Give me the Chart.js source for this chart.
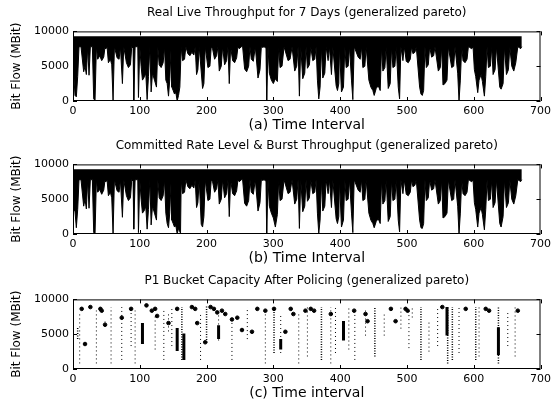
<!DOCTYPE html>
<html>
<head>
<meta charset="utf-8">
<script src="https://cdn.jsdelivr.net/npm/chart.js@4.4.1/dist/chart.umd.min.js"></script>
<style>
  html, body { margin: 0; padding: 0; background: #fff; }
  #wrap { position: relative; width: 555px; height: 408px; }
  .box { position: absolute; left: 0; width: 555px; height: 134px; }
</style>
</head>
<body>
<div id="wrap">
  <div class="box" style="top:0px"><canvas id="liveChart"></canvas></div>
  <div class="box" style="top:133px"><canvas id="rateChart"></canvas></div>
  <div class="box" style="top:268px"><canvas id="bucketChart"></canvas></div>
</div>
<script>
// tick labels shared by the three panels
const timeTicks = [0, 100, 200, 300, 400, 500, 600, 700];
const flowTicks = [0, 5000, 10000];

// (a) real live throughput, [time interval, MBit]
const liveThroughput = [
  [0,7800],[1,4000],[3,800],[5,600],[7,3500],[9,7800],
  [12,7800],[16,4200],[18,5000],[20,3800],[22,7800],[24,3700],[26,7800],
  [29,7800],[31,300],[33,100],[35,7800],
  [37,6000],[40,6500],[43,5800],[46,6300],[48,7800],[49,7500],[51,7800],
  [53,5500],[56,6000],[58,5200],[60,100],[62,7800],
  [66,6200],[69,6000],[71,7800],[74,2500],[76,7800],
  [80,5500],[83,4800],[86,5200],[88,7800],
  [90,7600],[91,0],[93,7800],[97,7800],[98,500],[100,7800],
  [102,5000],[104,3000],[107,3500],[109,4000],[111,200],[113,3500],[115,7800],
  [117,1300],[119,4000],[122,3000],[125,2000],[127,7800],
  [129,5200],[132,4800],[135,5500],[137,7800],
  [139,3000],[141,2500],[143,700],[145,3200],[147,7800],
  [148,2000],[150,1500],[152,1000],[154,1200],[156,0],[158,800],[160,2000],[162,7800],
  [164,5800],[167,6000],[169,7800],
  [172,6800],[175,6500],[178,7000],[181,6600],[183,7800],
  [185,3800],[187,4500],[189,7800],
  [194,1800],[196,2500],[198,7800],
  [202,4800],[205,5000],[207,7800],
  [209,7500],[212,6000],[215,6500],[217,7800],
  [219,4300],[222,5000],[224,7800],
  [227,5200],[230,5800],[232,7800],
  [234,2500],[236,7800],
  [239,5800],[242,5500],[245,6200],[247,7800],
  [249,7500],[252,7800],[254,7800],
  [257,4600],[260,4200],[263,5000],[265,7800],
  [267,6000],[270,5700],[273,7800],
  [277,3300],[280,4500],[282,7800],
  [284,7700],[286,7800],
  [289,7600],[290,0],[292,7800],
  [294,4000],[297,3000],[300,2500],[303,3200],[306,2800],[308,7800],
  [310,4800],[313,5000],[316,7800],
  [322,5800],[325,6000],[328,7800],
  [332,4300],[335,5000],[337,7800],
  [339,700],[341,7800],
  [344,3200],[347,4000],[349,7800],
  [351,4700],[354,5200],[356,7800],
  [359,5800],[362,6000],[364,7800],
  [366,3000],[368,300],[370,2000],[372,7800],
  [374,3300],[377,4000],[379,7800],
  [382,5800],[384,7800],
  [387,3800],[389,7800],
  [394,2200],[396,1500],[398,2500],[399,7800],
  [402,1300],[405,2000],[407,7800],
  [409,4800],[412,5000],[414,7800],
  [417,3000],[419,200],[421,7800],
  [427,6300],[430,6000],[432,7800],
  [434,4800],[437,5000],[439,7800],
  [443,3000],[446,2000],[449,1500],[451,800],[454,1800],[457,2200],[460,1500],[462,7800],
  [464,4300],[467,4800],[469,7800],
  [472,1800],[475,2500],[477,7800],
  [479,4800],[482,5000],[484,7800],
  [487,2000],[489,300],[491,7800],
  [494,5800],[496,7800],
  [499,5700],[502,5500],[505,6000],[507,7800],
  [509,6800],[512,7000],[514,7800],
  [519,2000],[521,1000],[523,800],[525,1500],[527,7800],
  [529,4800],[532,5200],[534,7800],
  [537,6300],[540,6500],[542,7800],
  [547,4300],[550,4800],[552,7800],
  [554,2300],[557,2500],[560,3000],[562,7800],
  [567,4800],[570,5000],[572,7800],
  [576,4000],[578,0],[580,3000],[582,7800],
  [584,5800],[587,5500],[590,6000],[592,7800],
  [594,7700],[597,7500],[599,7800],
  [601,4500],[603,3500],[606,1200],[608,3000],[611,3800],[613,2800],[616,700],[618,3500],[620,7800],
  [622,4800],[625,5000],[627,7800],
  [629,3800],[632,4500],[634,7800],
  [639,2000],[641,1700],[644,2500],[646,7800],
  [649,3800],[652,4500],[654,7800],
  [657,5000],[660,4300],[663,5500],[666,7800],
  [668,7700],[670,7500],[672,7800]
];

// (b) committed rate level & burst throughput
const committedRate = [
  [0,7800],[1,3600],[3,3200],[5,900],[7,3500],[9,7800],
  [12,7800],[16,4000],[18,5000],[20,3600],[22,7800],[24,3700],[26,7800],
  [29,7800],[31,200],[33,0],[35,7800],
  [37,6000],[40,6400],[43,5700],[46,6300],[48,7800],[49,7500],[51,7800],
  [53,5500],[56,6000],[58,5200],[60,0],[62,7800],
  [66,6200],[69,6000],[71,7800],[74,2400],[76,7800],
  [80,5500],[83,4800],[86,5200],[88,7800],
  [90,7600],[91,700],[93,7800],[97,7800],[98,200],[100,7800],
  [102,5000],[104,3000],[107,3400],[109,4000],[111,700],[113,3500],[115,7800],
  [117,1300],[119,4000],[122,3000],[125,2000],[127,7800],
  [129,5200],[132,4800],[135,5500],[137,7800],
  [139,3000],[141,1500],[143,900],[145,3200],[147,7800],
  [148,2000],[150,1500],[152,1000],[154,1200],[156,0],[158,800],[161,100],[162,7800],
  [164,5800],[167,6000],[169,7800],
  [172,6800],[175,6500],[178,7000],[181,6600],[183,7800],
  [185,3800],[187,4500],[189,7800],
  [192,1400],[194,1000],[196,2500],[198,7800],
  [202,4800],[205,5000],[207,7800],
  [209,7500],[212,6000],[215,6500],[217,7800],
  [219,4300],[222,5000],[224,7800],
  [227,5200],[230,5800],[232,7800],
  [234,2500],[236,7800],
  [239,5800],[242,5500],[245,6200],[247,7800],
  [249,7500],[252,7800],[254,7800],
  [257,4400],[260,4000],[263,4800],[265,7800],
  [267,6000],[270,5700],[273,7800],
  [277,3300],[280,4500],[282,7800],
  [284,7700],[286,7800],
  [289,7600],[290,0],[292,7800],
  [294,4000],[297,3000],[300,2300],[303,1000],[306,2800],[308,7800],
  [310,4800],[313,5000],[316,7800],
  [322,5800],[325,6000],[328,7800],
  [332,4300],[335,5000],[337,7800],
  [339,800],[341,7800],
  [344,3200],[347,4000],[349,7800],
  [351,4700],[354,5200],[356,7800],
  [359,5800],[362,6000],[364,7800],
  [366,3000],[368,100],[370,2000],[372,7800],
  [374,3300],[377,4000],[379,7800],
  [382,5800],[384,7800],
  [387,3800],[389,7800],
  [394,2200],[396,1500],[398,2500],[399,7800],
  [402,1000],[405,2000],[407,7800],
  [409,4800],[412,5000],[414,7800],
  [417,3000],[419,200],[421,7800],
  [427,6300],[430,6000],[432,7800],
  [434,4800],[437,5000],[439,7800],
  [443,3000],[446,2000],[449,1500],[451,900],[454,1800],[457,2200],[460,1500],[462,7800],
  [464,4300],[467,4800],[469,7800],
  [472,1800],[475,2500],[477,7800],
  [479,4800],[482,5000],[484,7800],
  [487,2000],[489,300],[491,7800],
  [494,5800],[496,7800],
  [499,5700],[502,5500],[505,6000],[507,7800],
  [509,6800],[512,7000],[514,7800],
  [519,2000],[521,900],[523,800],[525,1500],[527,7800],
  [529,4800],[532,5200],[534,7800],
  [537,6300],[540,6500],[542,7800],
  [547,4300],[550,4800],[552,7800],
  [554,2300],[557,2500],[560,3000],[562,7800],
  [567,4800],[570,5000],[572,7800],
  [576,4000],[578,0],[580,3000],[582,7800],
  [584,5800],[587,5500],[590,6000],[592,7800],
  [594,7700],[597,7500],[599,7800],
  [601,4500],[603,3500],[606,1000],[608,3000],[611,3800],[613,2800],[616,600],[618,3500],[620,7800],
  [622,4800],[625,5000],[627,7800],
  [629,3800],[632,4500],[634,7800],
  [639,1500],[641,1000],[644,2500],[646,7800],
  [649,3800],[652,4500],[654,7800],
  [657,5000],[660,4300],[663,5500],[666,7800],
  [668,7700],[670,7500],[672,7800]
];

// (c) P1 bucket capacity after policing: dotted columns [time, low, high]
const sparseColumns = [
  [10,800,7900],[35,800,8400],[48,6100,6900],[57,800,8900],[73,1300,8900],
  [87,3300,8600],[93,800,8400],[123,2800,7900],[136,1300,8400],[143,5400,8000],
  [148,3300,8900],[191,1300,7900],[218,4100,7900],[238,1300,7400],[261,4300,8900],
  [288,800,8600],[311,2300,7900],[338,800,7900],[351,1800,8900],[386,800,8900],
  [393,2300,8900],[413,2800,8900],[422,1300,8400],[438,4800,8600],[466,4800,8100],
  [491,5800,8900],[503,3000,8600],[508,7400,8900],[533,2500,7000],[546,3300,8900],
  [578,2300,8900],[608,1800,8900],[651,3300,8400],[662,1800,8900]
];
const denseColumns = [
  [7,4300,5900],[163,1300,8900],[200,3800,9000],[301,2300,8900],[372,1300,8900],
  [452,1800,8900],[521,1300,8900],[561,800,8900],[568,1300,8900],[603,1300,8900],
  [637,800,8900]
];
const solidBars = [
  [104,3600,6600],[156,2600,5900],[166,1300,5100],[218,4300,6300],[311,2800,4300],
  [405,4100,6900],[560,4800,8900],[637,2000,6000]
];
const bucketDots = [
  [13,8640],[18,3590],[26,8900],[41,8640],[43,8380],[48,6360],[73,7370],[87,8640],
  [110,9140],[118,8380],[123,8640],[126,7620],[143,6600],[156,8640],[178,8900],
  [183,8640],[186,6600],[198,3840],[206,8900],[211,8640],[216,8130],[223,8380],
  [228,7900],[238,7120],[246,7370],[253,5600],[268,5350],[276,8640],[288,8380],
  [301,8640],[318,5350],[326,8640],[330,7900],[348,8380],[356,8640],[361,8380],
  [386,7900],[421,8380],[438,7900],[441,6870],[476,8640],[483,6870],[498,8640],
  [501,8380],[553,8900],[588,8640],[618,8640],[623,8380],[666,8380]
];

Chart.defaults.font.family = "'DejaVu Sans', sans-serif";
Chart.defaults.font.size = 12;
Chart.defaults.color = "#000";
Chart.defaults.animation = false;

// MATLAB style box with inward ticks
const axesBox = {
  id: "axesBox",
  afterDatasetsDraw(chart) {
    const { ctx, chartArea: a, scales: { x, y } } = chart;
    ctx.save();
    ctx.strokeStyle = "#000";
    ctx.lineWidth = 1;
    ctx.strokeRect(a.left + 0.5, a.top + 0.5, a.width - 1, a.height - 1);
    ctx.beginPath();
    timeTicks.forEach(v => {
      const px = Math.round(x.getPixelForValue(v)) + 0.5;
      ctx.moveTo(px, a.bottom); ctx.lineTo(px, a.bottom - 4);
      ctx.moveTo(px, a.top); ctx.lineTo(px, a.top + 4);
    });
    flowTicks.forEach(v => {
      const py = Math.round(y.getPixelForValue(v)) + 0.5;
      ctx.moveTo(a.left, py); ctx.lineTo(a.left + 4, py);
      ctx.moveTo(a.right, py); ctx.lineTo(a.right - 4, py);
    });
    ctx.stroke();
    ctx.restore();
  }
};

function baseOptions(title, xLabel) {
  return {
    responsive: true,
    maintainAspectRatio: false,
    layout: { padding: { left: 10, right: 12, top: 0, bottom: 0 } },
    plugins: {
      legend: { display: false },
      tooltip: { enabled: false },
      title: {
        display: true, text: title, fullSize: false,
        font: { size: 12, weight: "normal" },
        padding: { top: 6, bottom: 11 }
      }
    },
    scales: {
      x: {
        type: "linear", min: 0, max: 700, offset: false,
        grid: { display: false, drawTicks: false }, border: { display: false },
        afterBuildTicks: s => { s.ticks = timeTicks.map(v => ({ value: v })); },
        ticks: { padding: 4, maxRotation: 0, font: { size: 11 }, callback: v => String(v) },
        title: { display: true, text: xLabel, font: { size: 14 }, padding: { top: -5, bottom: 0 } }
      },
      y: {
        min: 0, max: 10000,
        grid: { display: false, drawTicks: false }, border: { display: false },
        afterBuildTicks: s => { s.ticks = flowTicks.map(v => ({ value: v })); },
        afterFit: s => { s.width = 63; },
        ticks: { padding: 4, font: { size: 11 }, callback: v => String(v) },
        title: { display: true, text: "Bit Flow (MBit)", font: { size: 12 }, padding: { top: 0, bottom: 0 } }
      }
    }
  };
}

function throughputChart(id, series, title, xLabel) {
  new Chart(document.getElementById(id), {
    type: "line",
    data: {
      datasets: [{
        data: series.map(p => ({ x: p[0], y: p[1] })),
        borderColor: "#000",
        backgroundColor: "#000",
        borderWidth: 1,
        pointRadius: 0,
        tension: 0,
        fill: { value: 9300 }
      }]
    },
    options: baseOptions(title, xLabel),
    plugins: [axesBox]
  });
}

throughputChart("liveChart", liveThroughput,
  "Real Live Throughput for 7 Days (generalized pareto)", "(a) Time Interval");
throughputChart("rateChart", committedRate,
  "Committed Rate Level & Burst Throughput (generalized pareto)", "(b) Time Interval");

// columns become vertical segments separated by gaps
function segments(cols) {
  const out = [];
  cols.forEach(c => {
    out.push({ x: c[0], y: c[1] }, { x: c[0], y: c[2] }, { x: c[0], y: null });
  });
  return out;
}

new Chart(document.getElementById("bucketChart"), {
  type: "scatter",
  data: {
    datasets: [
      {
        data: segments(sparseColumns), showLine: true, spanGaps: false,
        borderColor: "#000", borderWidth: 1, borderDash: [1, 3], pointRadius: 0
      },
      {
        data: segments(denseColumns), showLine: true, spanGaps: false,
        borderColor: "#000", borderWidth: 1.5, borderDash: [1, 1.5], pointRadius: 0
      },
      {
        data: segments(solidBars), showLine: true, spanGaps: false,
        borderColor: "#000", borderWidth: 3, pointRadius: 0
      },
      {
        data: bucketDots.map(p => ({ x: p[0], y: p[1] })),
        backgroundColor: "#000", borderColor: "#000", pointRadius: 1.8
      }
    ]
  },
  options: baseOptions("P1 Bucket Capacity After Policing (generalized pareto)", "(c) Time interval"),
  plugins: [axesBox]
});
</script>
</body>
</html>
